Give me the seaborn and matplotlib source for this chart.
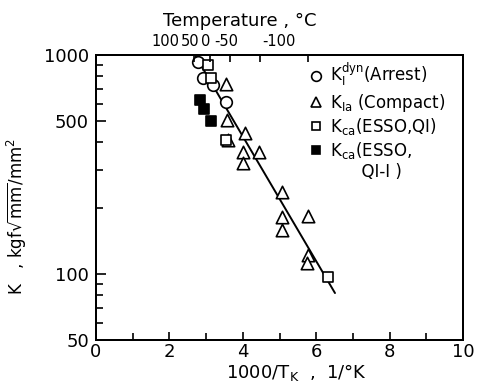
import numpy as np
import pandas as pd
import seaborn as sns
import matplotlib.pyplot as plt
from matplotlib.lines import Line2D
from matplotlib.ticker import FixedLocator, NullFormatter, FixedFormatter

# Data: x = 1000/T_K, y = K (kgf sqrt(mm)/mm^2)
arrest_x = [2.78, 2.92, 3.19, 3.54]
arrest_k = [930, 785, 730, 610]

compact_x = [3.54, 3.57, 3.60, 4.06, 4.01, 4.44, 4.01, 5.07, 5.07, 5.78, 5.07, 5.78, 5.75]
compact_k = [738, 505, 410, 441, 361, 361, 321, 237, 182, 184, 159, 122, 112]

esso_qi_x = [3.05, 3.13, 3.54, 6.32]
esso_qi_k = [900, 785, 410, 97]

esso_qi1_x = [2.83, 2.94, 3.13]
esso_qi1_k = [624, 566, 500]

fit_x = [2.70, 6.51]
fit_k = [1000, 82]

temp_c = [100, 50, 0, -50, -100]
temp_labels = ["100", "50", "0", "-50", "-100"]

sns.set_style("ticks")
plt.rcParams['font.family'] = ['DejaVu Sans']
plt.rcParams['mathtext.fontset'] = 'dejavusans'
plt.rcParams['text.color'] = 'black'
plt.rcParams['axes.labelcolor'] = 'black'
plt.rcParams['axes.edgecolor'] = 'black'

fig = plt.figure(figsize=(4.84, 3.83), dpi=100)
ax = fig.add_axes([0.198, 0.112, 0.759, 0.744])

# fitted line
sns.lineplot(x=fit_x, y=fit_k, color='black', linewidth=1.4, ax=ax, zorder=1)

mk = dict(edgecolor='black', linewidth=1.2, zorder=3, ax=ax, legend=False)
sns.scatterplot(x=arrest_x, y=arrest_k, marker='o', s=70, color='white', **mk)
sns.scatterplot(x=compact_x, y=compact_k, marker='^', s=80, color='white', **mk)
sns.scatterplot(x=esso_qi_x, y=esso_qi_k, marker='s', s=45, color='white', **mk)
sns.scatterplot(x=esso_qi1_x, y=esso_qi1_k, marker='s', s=55, color='black', **mk)

ax.set_yscale('log')
ax.set_xlim(0, 10)
ax.set_ylim(50, 1000)
ax.set_xticks([0, 2, 4, 6, 8, 10])
ax.set_xticklabels(["0", "2", "4", "6", "8", "10"])
ax.xaxis.set_minor_locator(FixedLocator([1, 3, 5, 7, 9]))
ax.yaxis.set_major_locator(FixedLocator([50, 100, 500, 1000]))
ax.yaxis.set_major_formatter(FixedFormatter(["50", "100", "500", "1000"]))
ax.yaxis.set_minor_locator(FixedLocator([60, 70, 80, 90, 200, 300, 400, 600, 700, 800, 900]))
ax.yaxis.set_minor_formatter(NullFormatter())
ax.tick_params(axis='both', which='both', direction='in', width=1.2, labelsize=13, colors='black')
ax.tick_params(axis='x', which='major', length=6, pad=2)
ax.tick_params(axis='x', which='minor', length=5)
ax.tick_params(axis='y', which='major', length=7, pad=5)
ax.tick_params(axis='y', which='minor', length=5)
for sp in ax.spines.values():
    sp.set_linewidth(1.4)
    sp.set_visible(True)

ax.set_xlabel("1000/T$_\\mathrm{K}$  ,  1/°K", fontsize=13)
ax.xaxis.set_label_coords(0.545, -0.078)
ax.set_ylabel("K   , kgf$\\sqrt{\\mathrm{mm}}$/mm$^2$", fontsize=12)
ax.yaxis.set_label_coords(-0.183, 0.435)

# top temperature axis
ax2 = ax.twiny()
ax2.set_xlim(ax.get_xlim())
ax2.set_xticks([1000 / (t + 273.15) for t in temp_c])
ax2.set_xticklabels([])
ax2.tick_params(axis='x', direction='in', length=5, width=1.2, colors='black')
for sp in ax2.spines.values():
    sp.set_linewidth(1.4)

# cramped temperature labels, placed as in the original
label_left_px = [151, 181, 201, 214, 262]
for lab, px in zip(temp_labels, label_left_px):
    fig.text(px / 484, 1 - 41 / 383, lab, ha='left', va='center', fontsize=10.5)
fig.text(240 / 484, 1 - 21 / 383, "Temperature , °C", ha='center', va='center', fontsize=13)

handles = [
    Line2D([], [], marker='o', ls='none', mfc='white', mec='black', ms=7, mew=1.2),
    Line2D([], [], marker='^', ls='none', mfc='white', mec='black', ms=7, mew=1.2),
    Line2D([], [], marker='s', ls='none', mfc='white', mec='black', ms=6, mew=1.2),
    Line2D([], [], marker='s', ls='none', mfc='black', mec='black', ms=6, mew=1.2),
    Line2D([], [], ls='none'),
]
labels = [
    "K$_\\mathrm{I}^\\mathrm{dyn}$(Arrest)",
    "K$_\\mathrm{Ia}$ (Compact)",
    "K$_\\mathrm{ca}$(ESSO,QI)",
    "K$_\\mathrm{ca}$(ESSO,",
    "      QI-I )",
]
ax.legend(handles, labels, loc='upper left', bbox_to_anchor=(0.55, 1.02), frameon=False,
          fontsize=12, handlelength=0.8, handletextpad=0.4, labelspacing=0.15, borderpad=0.2)

fig.savefig("out.png", dpi=100)
